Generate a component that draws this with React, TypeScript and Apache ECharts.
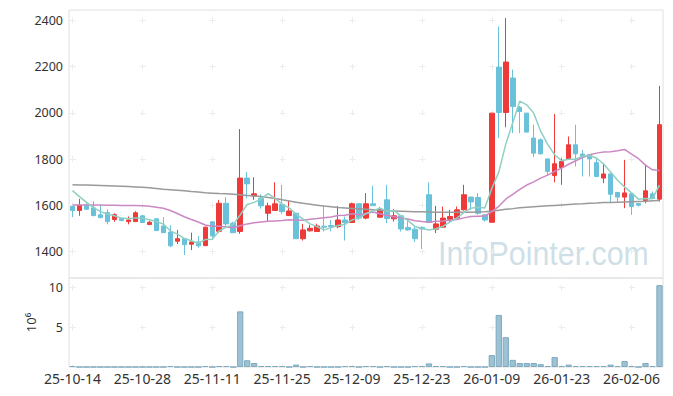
import React, { useEffect, useRef } from 'react';
import * as echarts from 'echarts';

const dates = [
  '25-10-14', '25-10-15', '25-10-16', '25-10-17', '25-10-20', '25-10-21', '25-10-22', '25-10-23', '25-10-24', '25-10-27',
  '25-10-28', '25-10-29', '25-10-30', '25-10-31', '25-11-03', '25-11-04', '25-11-05', '25-11-06', '25-11-07', '25-11-10',
  '25-11-11', '25-11-12', '25-11-13', '25-11-14', '25-11-17', '25-11-18', '25-11-19', '25-11-20', '25-11-21', '25-11-24',
  '25-11-25', '25-11-26', '25-11-27', '25-11-28', '25-12-01', '25-12-02', '25-12-03', '25-12-04', '25-12-05', '25-12-08',
  '25-12-09', '25-12-10', '25-12-11', '25-12-12', '25-12-15', '25-12-16', '25-12-17', '25-12-18', '25-12-19', '25-12-22',
  '25-12-23', '25-12-24', '25-12-26', '25-12-29', '25-12-30', '26-01-02', '26-01-05', '26-01-06', '26-01-07', '26-01-08',
  '26-01-09', '26-01-12', '26-01-13', '26-01-14', '26-01-15', '26-01-16', '26-01-19', '26-01-20', '26-01-21', '26-01-22',
  '26-01-23', '26-01-26', '26-01-27', '26-01-28', '26-01-29', '26-01-30', '26-02-02', '26-02-03', '26-02-04', '26-02-05',
  '26-02-06', '26-02-09', '26-02-10', '26-02-11', '26-02-12',
];

const opens = [
  1595, 1578, 1601, 1589, 1559, 1569, 1539, 1543, 1530, 1530,
  1555, 1517, 1542, 1511, 1485, 1445, 1456, 1432, 1442, 1426,
  1529, 1488, 1609, 1523, 1487, 1718, 1641, 1631, 1566, 1578,
  1604, 1556, 1566, 1456, 1490, 1487, 1510, 1513, 1508, 1537,
  1526, 1607, 1545, 1607, 1549, 1624, 1542, 1555, 1504, 1497,
  1505, 1646, 1497, 1506, 1540, 1545, 1581, 1636, 1634, 1559,
  1527, 2198, 2002, 2151, 2024, 1999, 1891, 1884, 1801, 1729,
  1764, 1801, 1862, 1822, 1820, 1785, 1718, 1736, 1656, 1636,
  1650, 1608, 1621, 1650, 1627,
];

const closes = [
  1578, 1601, 1583, 1556, 1547, 1530, 1560, 1534, 1537, 1568,
  1526, 1527, 1491, 1482, 1425, 1456, 1430, 1442, 1425, 1506,
  1468, 1609, 1520, 1482, 1718, 1693, 1650, 1598, 1598, 1607,
  1573, 1576, 1456, 1494, 1501, 1511, 1506, 1508, 1537, 1526,
  1607, 1545, 1607, 1599, 1581, 1543, 1555, 1498, 1494, 1456,
  1498, 1526, 1520, 1545, 1552, 1581, 1646, 1615, 1566, 1537,
  1999, 2002, 2220, 2028, 2006, 1917, 1826, 1823, 1747, 1780,
  1790, 1862, 1823, 1811, 1801, 1725, 1736, 1648, 1636, 1654,
  1595, 1601, 1663, 1630, 1949,
];

const lows = [
  1549, 1555, 1580, 1553, 1545, 1518, 1529, 1533, 1518, 1530,
  1523, 1516, 1491, 1481, 1419, 1433, 1386, 1407, 1417, 1424,
  1451, 1480, 1508, 1480, 1477, 1630, 1624, 1586, 1530, 1576,
  1562, 1554, 1455, 1448, 1487, 1485, 1487, 1488, 1501, 1448,
  1524, 1537, 1540, 1597, 1546, 1523, 1530, 1487, 1490, 1442,
  1412, 1524, 1480, 1503, 1526, 1540, 1578, 1581, 1559, 1530,
  1526, 1891, 1938, 1913, 1912, 1915, 1809, 1820, 1729, 1700,
  1689, 1798, 1768, 1725, 1725, 1722, 1696, 1614, 1614, 1588,
  1559, 1595, 1609, 1629, 1617,
];

const highs = [
  1596, 1628, 1609, 1618, 1602, 1583, 1566, 1545, 1552, 1575,
  1559, 1534, 1542, 1549, 1514, 1494, 1458, 1482, 1468, 1507,
  1530, 1624, 1635, 1529, 1930, 1744, 1722, 1647, 1612, 1700,
  1689, 1621, 1568, 1520, 1516, 1521, 1598, 1537, 1598, 1552,
  1612, 1608, 1653, 1685, 1592, 1689, 1583, 1556, 1540, 1508,
  1509, 1700, 1598, 1595, 1581, 1595, 1689, 1637, 1653, 1560,
  2000, 2374, 2410, 2187, 2030, 2000, 1949, 1890, 1803, 1995,
  1804, 1898, 1949, 1840, 1822, 1804, 1783, 1738, 1657, 1797,
  1651, 1609, 1775, 1660, 2117,
];

const ma5 = [
  1664, 1638, 1613, 1590, 1573, 1563, 1555, 1545, 1542, 1546,
  1545, 1538, 1530, 1519, 1490, 1476, 1457, 1447, 1436, 1452,
  1454, 1490, 1506, 1517, 1559, 1604, 1613, 1628, 1651, 1629,
  1605, 1590, 1562, 1541, 1520, 1508, 1494, 1504, 1513, 1518,
  1537, 1545, 1564, 1577, 1588, 1575, 1577, 1555, 1534, 1509,
  1500, 1494, 1499, 1509, 1528, 1545, 1569, 1588, 1592, 1589,
  1673, 1744, 1865, 1957, 2051, 2035, 1999, 1920, 1864, 1819,
  1793, 1800, 1800, 1813, 1817, 1804, 1779, 1744, 1709, 1680,
  1654, 1627, 1630, 1629, 1688,
];

const ma20 = [
  1602, 1602, 1602, 1602, 1602, 1601, 1601, 1600, 1600, 1599,
  1598, 1596, 1592, 1588, 1578, 1565, 1551, 1539, 1528, 1515,
  1510, 1510, 1507, 1503, 1512, 1520, 1525, 1528, 1531, 1533,
  1535, 1538, 1536, 1536, 1540, 1543, 1547, 1550, 1556, 1557,
  1564, 1560, 1565, 1571, 1564, 1556, 1551, 1546, 1541, 1534,
  1530, 1527, 1531, 1533, 1536, 1539, 1546, 1552, 1553, 1554,
  1573, 1596, 1627, 1648, 1669, 1688, 1702, 1718, 1731, 1747,
  1761, 1778, 1793, 1807, 1819, 1826, 1831, 1832, 1836, 1842,
  1822, 1802, 1774, 1754, 1751,
];

const ma60 = [
  1689, 1688, 1688, 1687, 1686, 1685, 1684, 1683, 1682, 1680,
  1678, 1676, 1673, 1670, 1668, 1666, 1663, 1660, 1658, 1655,
  1653, 1651, 1650, 1648, 1646, 1643, 1641, 1638, 1634, 1630,
  1624, 1619, 1614, 1609, 1605, 1601, 1597, 1594, 1591, 1589,
  1587, 1585, 1583, 1581, 1579, 1577, 1576, 1575, 1574, 1573,
  1572, 1571, 1570, 1570, 1570, 1570, 1570, 1570, 1571, 1572,
  1575, 1579, 1583, 1586, 1590, 1592, 1594, 1596, 1598, 1600,
  1602, 1604, 1606, 1607, 1609, 1610, 1612, 1613, 1614, 1615,
  1616, 1617, 1618, 1620, 1621,
];

// volume in millions (axis name 10^6)
const volumes = [
  0.12, 0, 0, 0, 0, 0, 0, 0, 0, 0,
  0, 0, 0, 0, 0.12, 0, 0, 0, 0, 0.12,
  0, 0.12, 0.12, 0, 7.0, 0.85, 0.5, 0.12, 0.12, 0.12,
  0.12, 0, 0.3, 0, 0.12, 0, 0, 0, 0, 0.12,
  0.12, 0, 0.12, 0.12, 0, 0.12, 0, 0, 0, 0.12,
  0.12, 0.45, 0.12, 0.12, 0, 0, 0.12, 0, 0, 0,
  1.5, 6.55, 3.75, 0.9, 0.5, 0.5, 0.5, 0.35, 0.12, 1.25,
  0.12, 0.3, 0.12, 0.12, 0.12, 0.12, 0.12, 0.3, 0.12, 0.75,
  0.12, 0, 0.5, 0.12, 10.3,
];

const volumeUnit = '10⁶';
const watermark = 'InfoPointer.com';

export default function App() {
  const ref = useRef<HTMLDivElement>(null);

  useEffect(() => {
    if (!ref.current) return;
    const chart = echarts.init(ref.current, null, { renderer: 'svg' });
    const font = 'Noto Sans';
    const cross = '#ececec';
    const border = '#e0e0e0';
    const ohlc = opens.map((o, i) => [o, closes[i], lows[i], highs[i]]);
    const upColor = '#ef3a3a';
    const downColor = '#69c2d9';
    const plain = (v: number) => String(v);

    chart.setOption({
      animation: false,
      backgroundColor: '#ffffff',
      grid: [
        { left: 69, right: 10, top: 10, height: 268, show: true, borderColor: border, borderWidth: 1, backgroundColor: 'transparent' },
        { left: 69, right: 10, top: 278, height: 89, show: true, borderColor: border, borderWidth: 1, backgroundColor: 'transparent' },
      ],
      xAxis: [
        {
          type: 'category', gridIndex: 0, data: dates, boundaryGap: true,
          axisLine: { show: false }, axisTick: { show: false }, axisLabel: { show: false },
          splitLine: { show: true, interval: 9, alignWithLabel: true, lineStyle: { color: cross, width: 1, type: [6, 40.24], dashOffset: 38.84 } },
        },
        {
          type: 'category', gridIndex: 1, data: dates, boundaryGap: true,
          axisLine: { show: false }, axisTick: { show: false },
          axisLabel: { interval: 9, fontSize: 14, color: '#333', fontFamily: font, margin: 4 },
          splitLine: { show: true, interval: 9, alignWithLabel: true, lineStyle: { color: cross, width: 1, type: [6, 33.73], dashOffset: 33.23 } },
        },
      ],
      yAxis: [
        {
          type: 'value', gridIndex: 0, min: 1286, max: 2445, splitNumber: 5, scale: true,
          axisLine: { show: false }, axisTick: { show: false },
          axisLabel: { fontSize: 12.5, color: '#333', fontFamily: font, margin: 6, showMinLabel: false, showMaxLabel: false, formatter: plain },
          splitLine: { show: true, lineStyle: { color: cross, width: 1, type: [6, 63.88], dashOffset: 69.38 } },
        },
        {
          type: 'value', gridIndex: 1, min: 0, max: 11.2, interval: 5,
          name: volumeUnit, nameLocation: 'middle', nameRotate: 90, nameGap: 32,
          nameTextStyle: { fontSize: 13, color: '#333', fontFamily: font },
          axisLine: { show: false }, axisTick: { show: false },
          axisLabel: { fontSize: 12.5, color: '#333', fontFamily: font, margin: 6, showMinLabel: false, showMaxLabel: false, formatter: plain },
          splitLine: { show: true, lineStyle: { color: cross, width: 1, type: [6, 63.88], dashOffset: 69.38 } },
        },
      ],
      graphic: [
        {
          type: 'text', x: 438, y: 254, scaleX: 0.92, z: 0, silent: true,
          style: {
            text: watermark, fill: '#cfdfe8', fontSize: 33, fontFamily: 'Liberation Sans',
            textAlign: 'left', align: 'left', textVerticalAlign: 'middle', verticalAlign: 'middle',
          },
        },
      ],
      series: [
        {
          type: 'candlestick', xAxisIndex: 0, yAxisIndex: 0, data: ohlc, barWidth: 5,
          itemStyle: { color: upColor, color0: downColor, borderColor: upColor, borderColor0: downColor, borderWidth: 1 },
        },
        {
          type: 'line', xAxisIndex: 0, yAxisIndex: 0, data: ma60, showSymbol: false, symbol: 'none',
          lineStyle: { color: '#9a9a9a', width: 1.5 },
        },
        {
          type: 'line', xAxisIndex: 0, yAxisIndex: 0, data: ma20, showSymbol: false, symbol: 'none',
          lineStyle: { color: '#cc88c4', width: 1.5 },
        },
        {
          type: 'line', xAxisIndex: 0, yAxisIndex: 0, data: ma5, showSymbol: false, symbol: 'none',
          lineStyle: { color: '#8fd0c3', width: 1.5 },
        },
        {
          type: 'bar', xAxisIndex: 1, yAxisIndex: 1, data: volumes, barWidth: '90%',
          itemStyle: { color: '#9cc2d3', borderColor: '#7eaabf', borderWidth: 1 },
        },
      ],
    });

    return () => chart.dispose();
  }, []);

  return <div ref={ref} style={{ position: 'fixed', left: 0, top: 0, width: 673, height: 396 }} />;
}
